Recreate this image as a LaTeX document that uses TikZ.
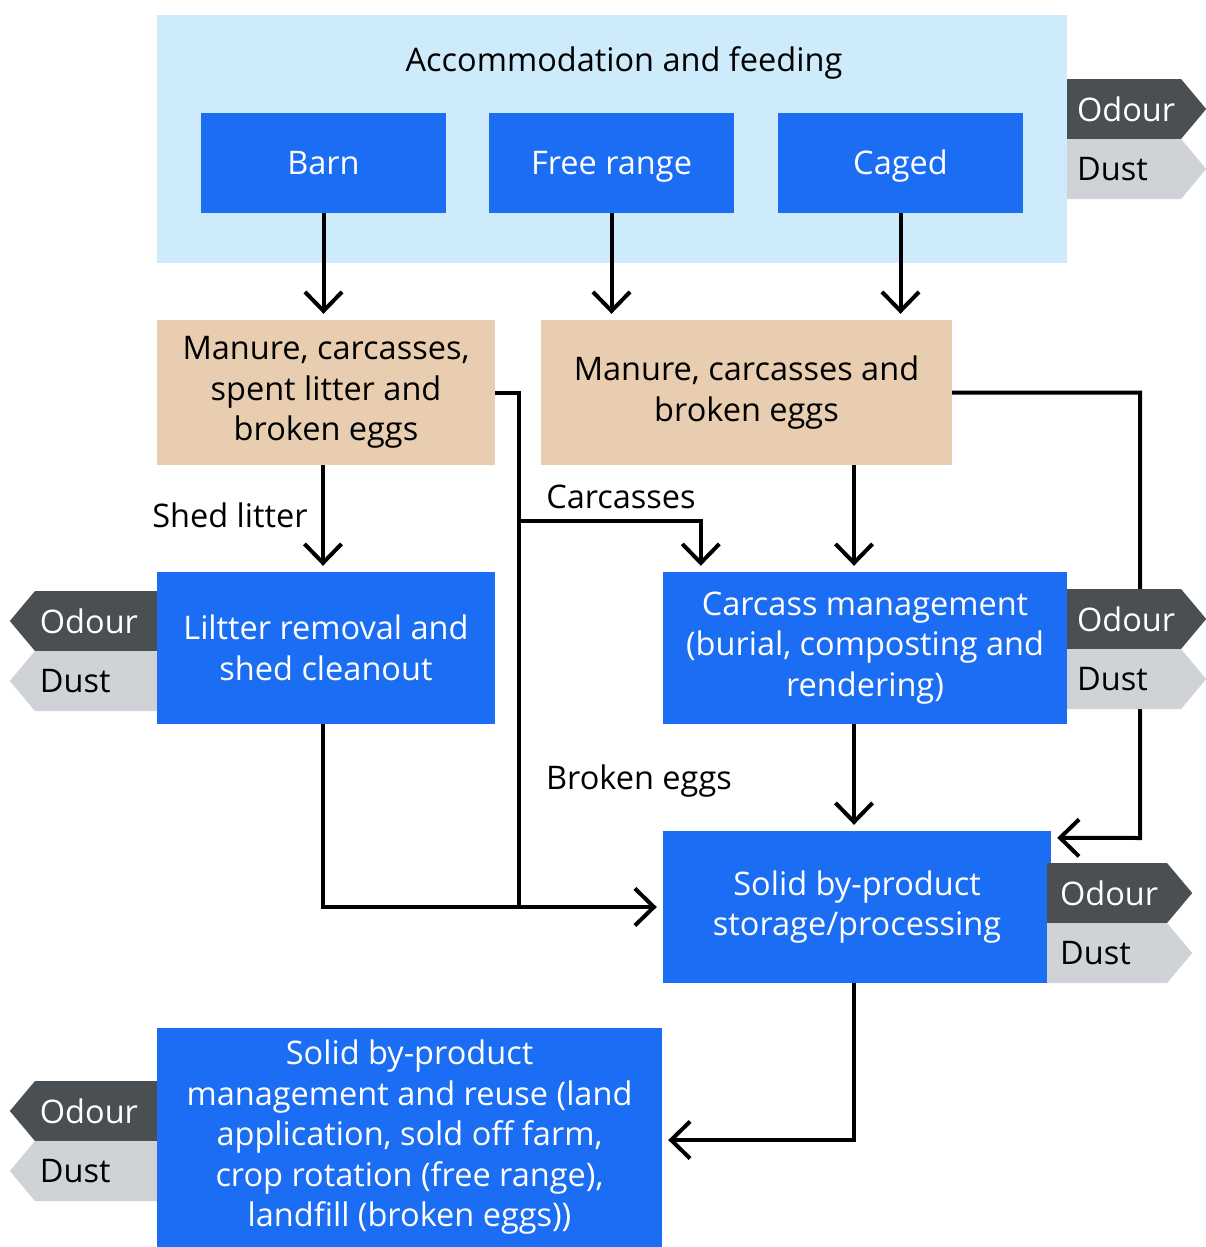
\documentclass[tikz,border=0pt]{standalone}
\usepackage{fontspec}
\setmainfont{Open Sans}
\usetikzlibrary{arrows.meta, shapes.symbols, calc}
\definecolor{bgblue}{HTML}{CDEBFB}
\definecolor{boxblue}{HTML}{1B6EF3}
\definecolor{wastetan}{HTML}{E8CDB0}
\definecolor{tagdark}{HTML}{4A4F54}
\definecolor{taglight}{HTML}{CFD3D7}

\begin{document}
\begin{tikzpicture}[
  x=1pt, y=-1pt,
  font=\fontsize{32.5}{40.5}\selectfont,
  process/.style={fill=boxblue, text=white, align=center, inner sep=0pt},
  housing/.style={fill=boxblue, text=white, inner sep=0pt,
                  minimum width=245pt, minimum height=100pt,
                  text height=23pt, text depth=0pt},
  waste/.style={fill=wastetan, align=center, inner sep=0pt},
  tag/.style={signal, signal pointer angle=100, inner sep=0pt,
              minimum height=60pt, minimum width=139pt, text width=94pt, align=left},
  lefttag/.style={signal to=west, anchor=east, minimum width=147pt, text width=112pt},
  righttag/.style={signal to=east, anchor=west},
  odourtag/.style={tag, fill=tagdark, text=white},
  dusttag/.style={tag, fill=taglight},
  link/.style={draw, line width=4pt},
  flow/.style={link, -{Straight Barb[length=19pt, width=37pt]}, shorten >=6pt}
]
\useasboundingbox (0,0) rectangle (1206,1247);

% housing systems
\fill[bgblue] (157,15) rectangle (1067,263);
\node (feeding) at (624,63) {Accommodation and feeding};
\node[housing] (barn) at (323.5,163) {Barn};
\node[housing] (free) at (611.5,163) {Free range};
\node[housing] (caged) at (900.5,163) {Caged};

% by-products
\node[waste, minimum width=338pt, minimum height=145pt] (waste1) at (326,392.5)
  {Manure, carcasses,\\spent litter and\\broken eggs};
\node[waste, minimum width=411pt, minimum height=145pt] (waste2) at (746.5,392.5)
  {Manure, carcasses and\\broken eggs};

% handling
\node[process, minimum width=338pt, minimum height=152pt] (litter) at (326,648)
  {Liltter removal and\\shed cleanout};
\node[process, minimum width=404pt, minimum height=152pt] (carcass) at (865,648)
  {Carcass management\\(burial, composting and\\rendering)};
\node[process, minimum width=388pt, minimum height=152pt] (store) at (857,907)
  {Solid by-product\\storage/processing};
\node[process, minimum width=505pt, minimum height=219pt] (reuse) at (409.5,1137.5)
  {Solid by-product\\management and reuse (land\\application, sold off farm,\\crop rotation (free range),\\landfill (broken eggs))};

% labels
\node (lshed) at (230,515) {Shed litter};
\node (lcarc) at (621,497) {Carcasses};
\node (leggs) at (639,781) {Broken eggs};

% connectors
\draw[flow] (barn.south) -- (barn.south |- waste1.north);
\draw[flow] (free.south) -- (free.south |- waste2.north);
\draw[flow] (caged.south) -- (caged.south |- waste2.north);
\draw[flow] ($(waste1.south)+(-3,0)$) -- ($(litter.north)+(-3,0)$);
\draw[flow] ($(waste2.south)+(107.5,0)$) -- ($(carcass.north)+(-11,0)$);

\coordinate (split) at (519,521);
\draw[link] (waste1.east) -| (split) -- (split |- store.west);
\draw[flow] (split) -| ($(carcass.north west)+(38,0)$);
\draw[flow] ($(litter.south)+(-3,0)$) |- (store.west);

\coordinate (rightbend) at (1140,838);
\draw[flow] (waste2.east) -| (rightbend) -- ($(store.north east)+(0,7)$);
\draw[flow] ($(carcass.south)+(-11,0)$) -- ($(store.north)+(-3,0)$);
\draw[flow] ($(store.south)+(-3,0)$) |- ($(reuse.east)+(0,2.5)$);

% emission tags, drawn over the connectors
\node[odourtag, righttag] (odour1) at (1067,109) {Odour};
\node[dusttag, righttag] (dust1) at (1067,169) {Dust};
\node[odourtag, lefttag] (odour2) at (157,621) {Odour};
\node[dusttag, lefttag] (dust2) at (157,681) {Dust};
\node[odourtag, righttag] (odour3) at (1067,619) {Odour};
\node[dusttag, righttag] (dust3) at (1067,679) {Dust};
\node[odourtag, righttag, minimum width=145pt] (odour4) at (1047,893) {Odour};
\node[dusttag, righttag, minimum width=145pt] (dust4) at (1047,953) {Dust};
\node[odourtag, lefttag] (odour5) at (157,1111) {Odour};
\node[dusttag, lefttag] (dust5) at (157,1171) {Dust};
\end{tikzpicture}
\end{document}
